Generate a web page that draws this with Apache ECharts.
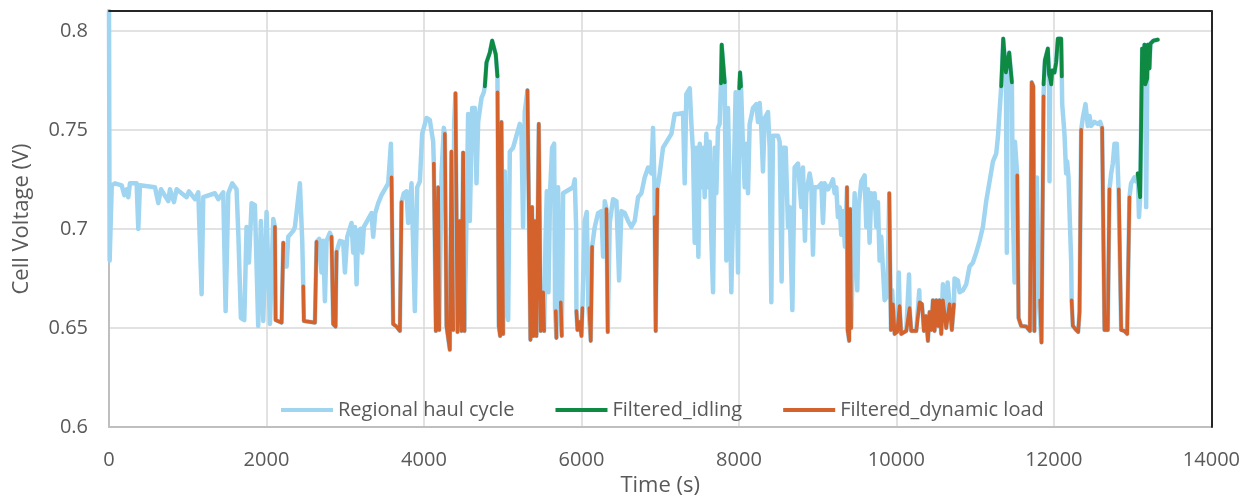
<!DOCTYPE html>
<html>
<head>
<meta charset="utf-8">
<title>Cell voltage</title>
<script src="https://cdn.jsdelivr.net/npm/echarts@6/dist/echarts.min.js"></script>
<style>
  html, body { margin: 0; padding: 0; background: #fff; }
  #chart { width: 1243px; height: 502px; }
</style>
</head>
<body>
<div id="chart"></div>
<script>
// axis ranges (s / V)
var timeMin = 0, timeMax = 14000, timeStep = 2000;
var voltMin = 0.6, voltMax = 0.81, voltStep = 0.05;

// legend names
var seriesNames = ["Regional haul cycle", "Filtered_idling", "Filtered_dynamic load"];

// full regional haul cycle [time s, voltage V]
var haulCycle = [
  [0,0.81],[8,0.684],[35,0.722],[76,0.723],[161,0.722],[195,0.717],[224,0.72],[245,0.716],[266,0.723],[351,0.723],
  [372,0.70],[393,0.722],[584,0.721],[626,0.713],[660,0.72],[753,0.714],[774,0.72],[825,0.7135],[859,0.72],[986,0.716],
  [1015,0.719],[1092,0.715],[1134,0.7185],[1176,0.667],[1197,0.716],[1345,0.718],[1388,0.715],[1451,0.7185],[1481,0.6585],[1515,0.718],
  [1565,0.723],[1620,0.72],[1642,0.698],[1675,0.655],[1718,0.654],[1747,0.701],[1777,0.683],[1811,0.713],[1853,0.712],[1895,0.651],
  [1929,0.704],[1959,0.6535],[2001,0.7085],[2044,0.652],[2086,0.705],[2107,0.701],[2116,0.654],[2192,0.6527],[2213,0.693],[2255,0.681],
  [2276,0.696],[2340,0.699],[2361,0.701],[2424,0.723],[2454,0.694],[2467,0.671],[2475,0.6535],[2615,0.6527],[2636,0.6935],[2670,0.695],
  [2699,0.678],[2720,0.694],[2742,0.6635],[2763,0.694],[2805,0.698],[2826,0.696],[2847,0.652],[2877,0.6507],[2890,0.6885],[2932,0.694],
  [2974,0.6935],[2996,0.678],[3025,0.696],[3080,0.703],[3101,0.688],[3123,0.701],[3144,0.672],[3165,0.699],[3194,0.70],[3216,0.688],
  [3237,0.701],[3334,0.708],[3355,0.696],[3381,0.708],[3419,0.713],[3461,0.717],[3546,0.723],[3580,0.743],[3588,0.726],[3609,0.652],
  [3651,0.6507],[3694,0.6485],[3715,0.7135],[3744,0.718],[3778,0.719],[3799,0.703],[3842,0.723],[3884,0.6585],[3914,0.721],[3948,0.724],
  [3977,0.748],[4032,0.756],[4074,0.755],[4117,0.744],[4125,0.733],[4151,0.6485],[4180,0.721],[4193,0.649],[4223,0.728],[4252,0.751],
  [4265,0.748],[4286,0.651],[4328,0.639],[4349,0.739],[4371,0.649],[4383,0.753],[4400,0.7685],[4426,0.648],[4455,0.704],[4476,0.6485],
  [4497,0.7385],[4514,0.6485],[4531,0.684],[4561,0.758],[4582,0.704],[4612,0.761],[4646,0.761],[4667,0.723],[4688,0.754],[4730,0.766],
  [4760,0.769],[4773,0.772],[4794,0.784],[4836,0.789],[4866,0.795],[4891,0.795],[4912,0.788],[4933,0.777],[4934,0.769],[4950,0.651],
  [4967,0.646],[4984,0.754],[5005,0.647],[5026,0.729],[5048,0.662],[5069,0.654],[5090,0.739],[5132,0.741],[5174,0.747],[5217,0.753],
  [5238,0.748],[5259,0.701],[5280,0.759],[5314,0.77],[5352,0.644],[5373,0.711],[5390,0.646],[5407,0.704],[5428,0.646],[5458,0.753],
  [5483,0.6485],[5513,0.668],[5526,0.6485],[5543,0.693],[5560,0.719],[5581,0.668],[5602,0.719],[5627,0.741],[5653,0.743],[5665,0.659],
  [5674,0.6585],[5682,0.645],[5703,0.721],[5725,0.662],[5737,0.663],[5750,0.646],[5767,0.718],[5809,0.719],[5851,0.72],[5894,0.721],
  [5915,0.725],[5932,0.701],[5936,0.6585],[5949,0.649],[5978,0.653],[6000,0.646],[6012,0.66],[6042,0.704],[6067,0.7085],[6088,0.661],
  [6101,0.66],[6118,0.6435],[6135,0.691],[6169,0.701],[6211,0.708],[6253,0.709],[6275,0.686],[6296,0.714],[6317,0.71],[6334,0.648],
  [6359,0.703],[6401,0.715],[6444,0.714],[6478,0.674],[6507,0.709],[6550,0.708],[6592,0.704],[6634,0.701],[6676,0.704],[6719,0.716],
  [6761,0.718],[6803,0.726],[6846,0.731],[6888,0.728],[6909,0.751],[6926,0.724],[6930,0.706],[6943,0.6485],[6964,0.72],[6994,0.728],
  [7036,0.741],[7057,0.741],[7142,0.748],[7184,0.758],[7227,0.758],[7290,0.7585],[7311,0.723],[7332,0.768],[7375,0.771],[7396,0.753],
  [7417,0.739],[7438,0.693],[7459,0.741],[7485,0.686],[7502,0.743],[7523,0.721],[7544,0.741],[7565,0.716],[7586,0.748],[7607,0.721],
  [7628,0.744],[7650,0.694],[7671,0.668],[7692,0.741],[7713,0.718],[7734,0.751],[7755,0.753],[7772,0.7735],[7781,0.793],[7802,0.792],
  [7819,0.774],[7822,0.761],[7840,0.684],[7861,0.761],[7882,0.718],[7903,0.668],[7925,0.708],[7958,0.769],[7988,0.678],[8005,0.771],
  [8014,0.779],[8026,0.772],[8052,0.741],[8073,0.721],[8094,0.743],[8115,0.718],[8136,0.753],[8179,0.761],[8221,0.763],[8242,0.754],
  [8263,0.7635],[8284,0.751],[8305,0.729],[8327,0.756],[8369,0.759],[8390,0.741],[8411,0.663],[8432,0.747],[8496,0.747],[8517,0.744],
  [8542,0.6735],[8559,0.741],[8593,0.741],[8623,0.701],[8644,0.711],[8678,0.659],[8707,0.731],[8750,0.733],[8792,0.711],[8813,0.731],
  [8838,0.694],[8855,0.718],[8898,0.728],[8919,0.723],[8940,0.687],[8961,0.721],[9004,0.721],[9046,0.723],[9067,0.703],[9088,0.723],
  [9131,0.72],[9173,0.723],[9194,0.725],[9215,0.718],[9236,0.721],[9257,0.706],[9279,0.711],[9300,0.697],[9321,0.709],[9346,0.691],
  [9372,0.721],[9380,0.649],[9400,0.6435],[9412,0.71],[9425,0.65],[9469,0.718],[9503,0.669],[9520,0.711],[9554,0.724],[9596,0.727],
  [9617,0.701],[9638,0.72],[9659,0.693],[9680,0.718],[9702,0.711],[9723,0.718],[9744,0.701],[9765,0.7135],[9786,0.684],[9807,0.696],
  [9829,0.696],[9850,0.664],[9879,0.666],[9892,0.681],[9909,0.718],[9930,0.649],[9945,0.669],[9955,0.662],[9977,0.647],[10010,0.648],
  [10030,0.678],[10040,0.661],[10061,0.647],[10125,0.6485],[10160,0.677],[10167,0.66],[10188,0.6485],[10252,0.6485],[10290,0.669],[10294,0.663],
  [10324,0.662],[10349,0.6485],[10374,0.656],[10400,0.6435],[10421,0.658],[10442,0.649],[10463,0.664],[10484,0.6485],[10506,0.664],[10527,0.651],
  [10548,0.664],[10569,0.647],[10590,0.672],[10611,0.673],[10632,0.65],[10650,0.673],[10675,0.662],[10704,0.649],[10730,0.662],[10738,0.675],
  [10780,0.674],[10802,0.668],[10844,0.669],[10886,0.672],[10929,0.681],[10971,0.683],[11013,0.688],[11056,0.694],[11098,0.701],[11140,0.714],
  [11183,0.724],[11225,0.734],[11267,0.738],[11288,0.746],[11309,0.759],[11331,0.772],[11356,0.796],[11377,0.796],[11390,0.779],[11402,0.688],
  [11412,0.778],[11432,0.789],[11453,0.789],[11466,0.774],[11478,0.711],[11500,0.673],[11505,0.744],[11534,0.727],[11551,0.655],[11584,0.651],
  [11648,0.6507],[11695,0.6485],[11718,0.774],[11738,0.772],[11752,0.6485],[11783,0.726],[11808,0.664],[11825,0.664],[11842,0.6427],[11868,0.767],
  [11885,0.785],[11923,0.791],[11938,0.778],[11944,0.724],[11952,0.776],[11965,0.773],[11978,0.78],[12007,0.779],[12028,0.784],[12050,0.796],
  [12092,0.796],[12100,0.777],[12105,0.763],[12134,0.748],[12155,0.728],[12168,0.734],[12185,0.726],[12202,0.704],[12219,0.684],[12225,0.664],
  [12240,0.651],[12282,0.649],[12308,0.648],[12325,0.658],[12346,0.75],[12367,0.756],[12401,0.763],[12430,0.752],[12452,0.757],[12473,0.752],
  [12515,0.754],[12557,0.753],[12587,0.754],[12612,0.751],[12642,0.649],[12684,0.649],[12705,0.72],[12727,0.728],[12748,0.733],[12769,0.743],
  [12799,0.743],[12820,0.721],[12824,0.72],[12854,0.649],[12896,0.6485],[12930,0.647],[12959,0.716],[12980,0.723],[13023,0.726],[13044,0.724],
  [13065,0.728],[13080,0.706],[13095,0.716],[13120,0.791],[13137,0.781],[13150,0.793],[13160,0.773],[13171,0.711],[13185,0.776],[13192,0.793],
  [13213,0.781],[13226,0.7935],[13264,0.795],[13319,0.7955]
];

// idling parts picked out of the cycle
var idlingSegs = [
  [[4773,0.772],[4794,0.784],[4836,0.789],[4866,0.795],[4891,0.795],[4912,0.788],[4933,0.777]],
  [[7772,0.7735],[7781,0.793],[7802,0.792],[7819,0.774]],
  [[8005,0.771],[8014,0.779],[8026,0.772]],
  [[11331,0.772],[11356,0.796],[11377,0.796],[11390,0.779],[11412,0.778],[11432,0.789],[11453,0.789],[11466,0.774]],
  [[11868,0.773],[11885,0.785],[11923,0.791],[11938,0.778],[11952,0.776],[11965,0.773],[11978,0.78],[12007,0.779],
   [12028,0.784],[12050,0.796],[12092,0.796],[12100,0.777]],
  [[13065,0.728],[13095,0.716],[13120,0.791],[13137,0.781],[13150,0.793],[13160,0.773],[13185,0.776],[13192,0.793],
   [13213,0.781],[13226,0.7935],[13264,0.795],[13319,0.7955]]
];

// dynamic load parts
var dynamicSegs = [
  [[2107,0.701],[2116,0.654],[2192,0.6527],[2213,0.693]],
  [[2467,0.671],[2475,0.6535],[2615,0.6527],[2636,0.6935]],
  [[2826,0.696],[2847,0.652],[2877,0.6507],[2890,0.6885]],
  [[3588,0.726],[3609,0.652],[3651,0.6507],[3694,0.6485],[3715,0.7135]],
  [[4125,0.733],[4151,0.6485],[4180,0.721],[4193,0.649]],
  [[4265,0.748],[4286,0.651],[4328,0.639],[4349,0.739],[4371,0.649]],
  [[4400,0.7685],[4426,0.648],[4455,0.704],[4476,0.6485],[4497,0.7385],[4514,0.6485]],
  [[4934,0.769],[4950,0.651],[4967,0.646],[4984,0.754],[5005,0.647]],
  [[5314,0.77],[5352,0.644],[5373,0.711],[5390,0.646],[5407,0.704],[5428,0.646],[5458,0.753],[5483,0.6485],[5513,0.668],[5526,0.6485]],
  [[5674,0.6585],[5682,0.645]],
  [[5737,0.663],[5750,0.646]],
  [[5936,0.6585],[5949,0.649],[5978,0.653],[6000,0.646],[6012,0.66]],
  [[6101,0.66],[6118,0.6435],[6135,0.691]],
  [[6317,0.71],[6334,0.648]],
  [[6930,0.706],[6943,0.6485],[6964,0.72]],
  [[9372,0.721],[9380,0.649],[9400,0.6435],[9412,0.71],[9425,0.65]],
  [[9909,0.718],[9930,0.649],[9955,0.662],[9977,0.647],[10010,0.648],[10040,0.661],[10061,0.647],[10125,0.6485],
   [10167,0.66],[10188,0.6485],[10252,0.6485],[10294,0.663],[10324,0.662],[10349,0.6485],[10374,0.656],[10400,0.6435],
   [10421,0.658],[10442,0.649],[10463,0.664],[10484,0.6485],[10506,0.664],[10527,0.651],[10548,0.664],[10569,0.647],
   [10590,0.664],[10611,0.6635],[10632,0.65],[10675,0.662],[10704,0.649],[10730,0.662]],
  [[11534,0.727],[11551,0.655],[11584,0.651],[11648,0.6507],[11695,0.6485],[11718,0.774],[11738,0.772],[11752,0.6485]],
  [[11825,0.664],[11842,0.6427],[11868,0.767]],
  [[12225,0.664],[12240,0.651],[12282,0.649],[12308,0.648],[12325,0.658],[12346,0.75]],
  [[12612,0.751],[12642,0.649],[12684,0.649],[12705,0.72]],
  [[12824,0.72],[12854,0.649],[12896,0.6485],[12930,0.647],[12959,0.716]]
];

// segments -> one data list, a null y breaks the line
function joinSegments(segs) {
  var out = [];
  segs.forEach(function (s, i) {
    if (i > 0) out.push([s[0][0], null]);
    out = out.concat(s);
  });
  return out;
}

var font = "Open Sans";
var textGrey = "#595959";

var chart = echarts.init(document.getElementById("chart"));

var option = {
  animation: false,
  textStyle: { fontFamily: font },
  grid: { left: 109, right: 31, top: 11, bottom: 70 },
  legend: {
    data: seriesNames,
    left: 276,
    top: 395,
    icon: "rect",
    itemWidth: 52,
    itemHeight: 4,
    itemGap: 41,
    textStyle: { fontFamily: font, fontSize: 20, color: textGrey }
  },
  xAxis: [
    {
      type: "value",
      min: timeMin,
      max: timeMax,
      interval: timeStep,
      name: "Time (s)",
      nameLocation: "middle",
      nameGap: 48,
      nameTextStyle: { fontFamily: font, fontSize: 22, color: textGrey },
      axisLine: { show: true, lineStyle: { color: "#bfbfbf", width: 2 } },
      axisTick: { show: false },
      axisLabel: {
        margin: 23,
        fontSize: 20,
        color: textGrey,
        formatter: function (v) { return String(v); }
      },
      splitLine: { show: true, lineStyle: { color: "#d9d9d9", width: 1.5 } }
    },
    {
      // black frame line on top
      type: "value",
      position: "top",
      min: timeMin,
      max: timeMax,
      z: 5,
      axisLine: { show: true, onZero: false, lineStyle: { color: "#262626", width: 2 } },
      axisTick: { show: false },
      axisLabel: { show: false },
      splitLine: { show: false }
    }
  ],
  yAxis: [
    {
      type: "value",
      min: voltMin,
      max: voltMax,
      interval: voltStep,
      name: "Cell Voltage (V)",
      nameLocation: "middle",
      nameGap: 76,
      nameTextStyle: { fontFamily: font, fontSize: 22, color: textGrey },
      axisLine: { show: true, lineStyle: { color: "#bfbfbf", width: 2 } },
      axisTick: { show: false },
      axisLabel: { margin: 21, fontSize: 20, color: textGrey, showMaxLabel: false },
      splitLine: { show: true, lineStyle: { color: "#d9d9d9", width: 1.5 } }
    },
    {
      // black frame line on the right
      type: "value",
      position: "right",
      min: voltMin,
      max: voltMax,
      z: 5,
      axisLine: { show: true, onZero: false, lineStyle: { color: "#262626", width: 2 } },
      axisTick: { show: false },
      axisLabel: { show: false },
      splitLine: { show: false }
    }
  ],
  series: [
    {
      name: seriesNames[0],
      type: "line",
      data: haulCycle,
      showSymbol: false,
      symbol: "none",
      color: "#9fd5f0",
      lineStyle: { width: 4.5, color: "#9fd5f0", join: "round", cap: "round" },
      z: 2
    },
    {
      name: seriesNames[1],
      type: "line",
      data: joinSegments(idlingSegs),
      showSymbol: false,
      symbol: "none",
      connectNulls: false,
      color: "#0e8a43",
      lineStyle: { width: 3.8, color: "#0e8a43", join: "round", cap: "round" },
      z: 3
    },
    {
      name: seriesNames[2],
      type: "line",
      data: joinSegments(dynamicSegs),
      showSymbol: false,
      symbol: "none",
      connectNulls: false,
      color: "#d3622c",
      lineStyle: { width: 3.6, color: "#d3622c", join: "round", cap: "round" },
      z: 3
    }
  ]
};

chart.setOption(option);
</script>
</body>
</html>
